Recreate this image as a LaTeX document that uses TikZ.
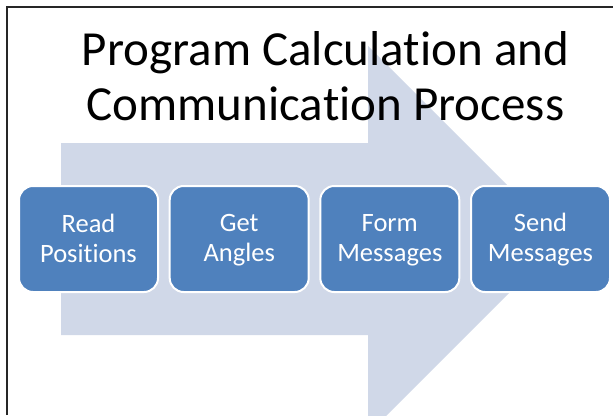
\documentclass[tikz,border=0pt]{standalone}
\usepackage{fontspec}
\setmainfont[Ligatures=NoCommon, RawFeature=-liga]{Carlito}
\definecolor{stageblue}{HTML}{4F81BD}
\definecolor{flowfill}{HTML}{D0D8E8}
\definecolor{framegray}{HTML}{262626}
% strut giving each box line the same height and depth
\newcommand\boxstrut{\rule[-4pt]{0pt}{24pt}}
\tikzset{
  stagebox/.style={draw=white, line width=2pt, fill=stageblue, rounded corners=14pt,
    minimum width=139pt, minimum height=106pt, inner sep=0pt, align=center,
    text=white, font=\fontsize{26.5}{30}\selectfont},
  headline/.style={align=center, inner sep=0pt, font=\fontsize{49}{55}\selectfont},
}
\begin{document}
\begin{tikzpicture}[x=1pt, y=-1pt]
  \useasboundingbox (0,0) rectangle (613,415);
  \fill[white] (0,0) rectangle (613,415);
  % big process arrow behind the stages
  \begin{scope}
    \clip (0,0) rectangle (613,415);
    \fill[flowfill] (61,143) -- (368,143) -- (368,46) -- (562,240)
      -- (368,434) -- (368,335) -- (61,335) -- cycle;
  \end{scope}
  % slide frame
  \draw[framegray, line width=2.4pt] (7,415) -- (7,7) -- (613,7);
  % heading (base anchor sits on the second line)
  \node[headline, anchor=base] (title) at (325.5,120.5)
    {Program Calculation and\\Communication Process};
  % stages
  \node[stagebox] (read) at (88.5,239) {\boxstrut Read\\\boxstrut Positions};
  \node[stagebox] (angles) at (239.2,239) {\boxstrut Get\\\boxstrut Angles};
  \node[stagebox] (form) at (389.8,239) {\boxstrut Form\\\boxstrut Messages};
  \node[stagebox] (send) at (540.5,239) {\boxstrut Send\\\boxstrut Messages};
\end{tikzpicture}
\end{document}
